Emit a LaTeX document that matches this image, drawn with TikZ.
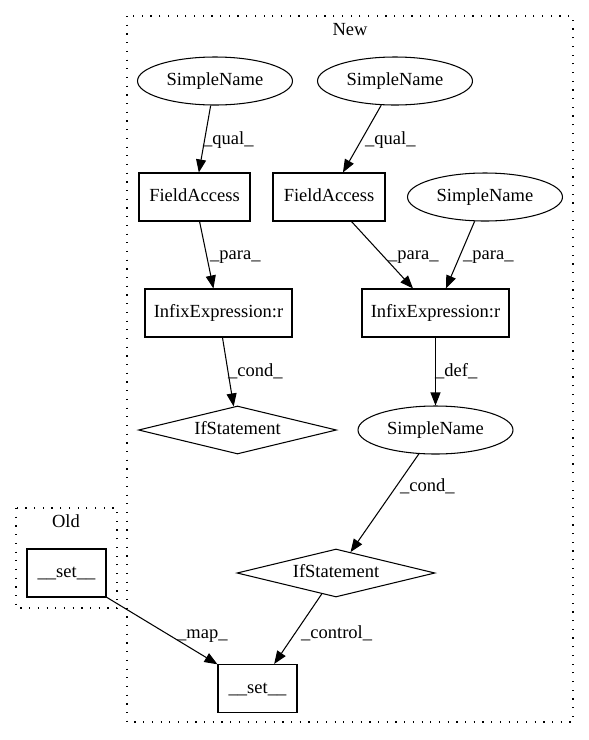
\documentclass[tikz,border=0pt]{standalone}
\usepackage{fontspec}
\setmainfont{Liberation Serif}
\usetikzlibrary{arrows.meta,shapes.geometric}
\tikzset{
  ast/.style={draw, line width=1.05pt, inner sep=0pt, text height=13pt, text depth=4pt, font=\fontsize{18.5}{22}\selectfont},
  boxnode/.style={ast, rectangle, minimum height=48pt},
  ellnode/.style={ast, ellipse, minimum width=155pt, minimum height=48pt},
  ifnode/.style={ast, diamond, aspect=4, minimum width=198pt, minimum height=48pt},
  edge/.style={line width=1.05pt, -{Triangle[length=13pt,width=10pt]}},
  lbl/.style={inner sep=0pt, anchor=west, text height=13pt, text depth=4pt, font=\fontsize{18.5}{22}\selectfont},
  cluster/.style={line width=1.2pt, dash pattern=on 1.2pt off 7.5pt}
}

\begin{document}
\begin{tikzpicture}[x=1pt, y=-1pt]
		%%%%% START %%%%%
		\useasboundingbox (0, 0) rectangle (589, 740);
		
		\draw[cluster] (127, 16) rectangle (573, 722);
		\node[lbl, anchor=center] (newlbl) at (350, 31) {New};
		\draw[cluster] (16, 508) rectangle (117, 608);
		\node[lbl, anchor=center] (oldlbl) at (66, 523) {Old};
		
		\node[ellnode] (sn1) at (215, 81) {SimpleName};
		\node[ellnode] (sn2) at (395, 81) {SimpleName};
		\node[boxnode, minimum width=111pt] (fa1) at (194.5, 197) {FieldAccess};
		\node[boxnode, minimum width=112pt] (fa2) at (329, 197) {FieldAccess};
		\node[ellnode] (sn3) at (485, 197) {SimpleName};
		
		\node[boxnode, minimum width=147pt] (ie1) at (218.5, 313) {InfixExpression:r};
		\node[boxnode, minimum width=147pt] (ie2) at (435.5, 313) {InfixExpression:r};
		
		\node[ifnode] (if1) at (237.5, 430) {IfStatement};
		\node[ellnode] (sn4) at (435.5, 430) {SimpleName};
		\node[ifnode] (if2) at (336, 573) {IfStatement};
		
		\node[boxnode, minimum width=79pt] (setold) at (66.5, 573) {\_\_set\_\_};
		\node[boxnode, minimum width=79pt] (setnew) at (257.5, 688.5) {\_\_set\_\_};
		
		\draw[edge] (sn1) -- (fa1);
		\node[lbl] (q1) at (203, 140) {\_qual\_};
		\draw[edge] (sn2) -- (fa2);
		\node[lbl] (q2) at (365, 140) {\_qual\_};
		
		\draw[edge] (fa1) -- (ie1);
		\node[lbl] (p1) at (210, 255) {\_para\_};
		\draw[edge] (fa2) -- (ie2);
		\node[lbl] (p2) at (388, 255) {\_para\_};
		\draw[edge] (sn3) -- (ie2);
		\node[lbl] (p3) at (463, 255) {\_para\_};
		
		\draw[edge] (ie1) -- (if1);
		\node[lbl] (c1) at (228, 372) {\_cond\_};
		\draw[edge] (ie2) -- (sn4);
		\node[lbl] (d1) at (435, 372) {\_def\_};
		
		\draw[edge] (sn4) -- (if2);
		\node[lbl] (c2) at (400, 487) {\_cond\_};
		
		\draw[edge] (if2) -- (setnew);
		\node[lbl] (ctl) at (301, 634) {\_control\_};
		\draw[edge] (setold) -- (setnew);
		\node[lbl] (mp) at (177, 634) {\_map\_};
		
		%%%%% END %%%%%
	\end{tikzpicture}
\end{document}
